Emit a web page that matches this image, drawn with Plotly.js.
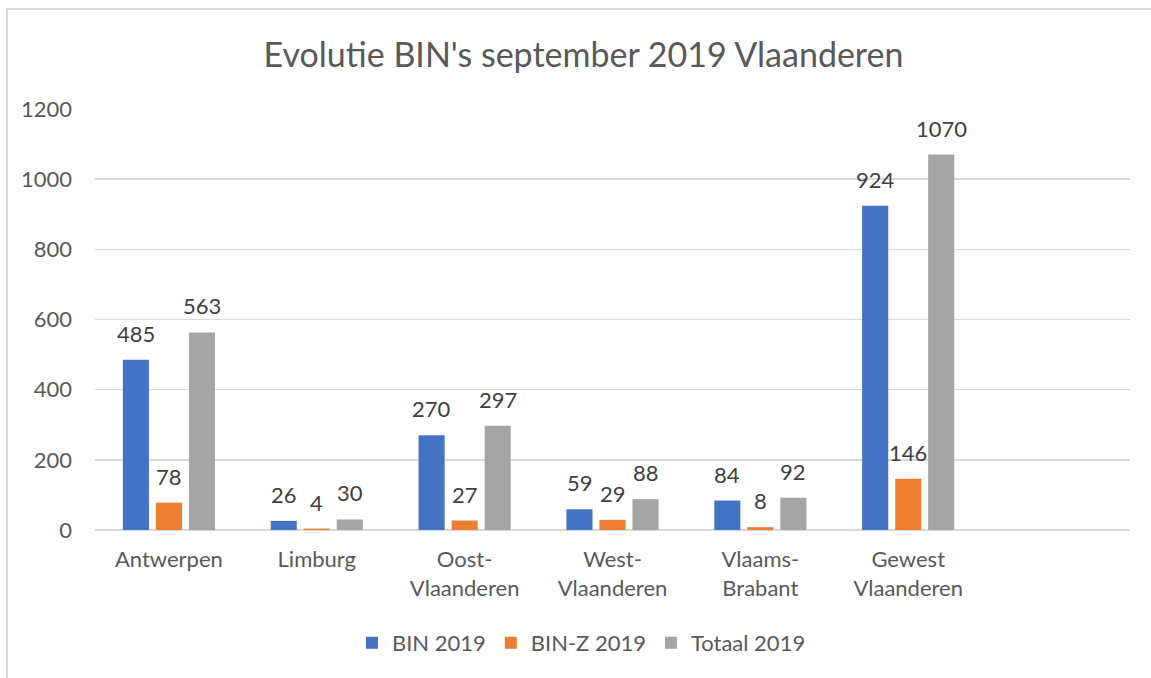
<!DOCTYPE html>
<html>
<head>
<meta charset="utf-8">
<script src="https://cdn.plot.ly/plotly-3.0.1.min.js"></script>
<style>
    body { margin: 0; background: #fff; }
    #chart { width: 1151px; height: 678px; }
    #frame {
        position: absolute; left: 6px; top: 8px; right: 0; bottom: 0;
        border-top: 2px solid #d9d9d9; border-left: 2px solid #d9d9d9;
        pointer-events: none;
    }
</style>
</head>
<body>
<div id="chart"></div>
<div id="frame"></div>
<script>
// data
var regions = ['Antwerpen', 'Limburg', 'Oost-<br>Vlaanderen', 'West-<br>Vlaanderen',
               'Vlaams-<br>Brabant', 'Gewest<br>Vlaanderen'];
var bin2019 = [485, 26, 270, 59, 84, 924];
var binZ2019 = [78, 4, 27, 29, 8, 146];
var totaal2019 = [563, 30, 297, 88, 92, 1070];

var seriesNames = ['BIN 2019', 'BIN-Z 2019', 'Totaal 2019'];
var seriesColors = ['#4472C4', '#ED7D31', '#A5A5A5'];
var seriesValues = [bin2019, binZ2019, totaal2019];

var fontFamily = 'Lato, "Open Sans", sans-serif';

var data = seriesValues.map(function(vals, i) {
    return {
        type: 'bar',
        name: seriesNames[i],
        x: regions,
        y: vals,
        marker: { color: seriesColors[i] },
        hoverinfo: 'x+y'
    };
});

// value labels above the bars (Excel puts them a bit higher than plotly's outside text)
var annotations = [];
seriesValues.forEach(function(vals, i) {
    vals.forEach(function(v, j) {
        annotations.push({
            x: regions[j],
            y: v,
            xref: 'x',
            yref: 'y',
            text: String(v),
            showarrow: false,
            xanchor: 'center',
            yanchor: 'bottom',
            xshift: (i - 1) * 33,
            yshift: 11,
            font: { family: fontFamily, size: 22, color: '#404040' }
        });
    });
});

var layout = {
    width: 1151,
    height: 678,
    margin: { l: 95, r: 21, t: 109, b: 148 },
    paper_bgcolor: '#fff',
    plot_bgcolor: '#fff',
    font: { family: fontFamily, size: 22, color: '#595959' },
    title: {
        text: "Evolutie BIN's september 2019 Vlaanderen",
        font: { family: fontFamily, size: 34, color: '#595959' },
        x: 0.507,
        xanchor: 'center',
        y: 0.918,
        yanchor: 'middle',
        yref: 'container'
    },
    barmode: 'group',
    bargap: 0.33,
    bargroupgap: 0.21,
    xaxis: {
        type: 'category',
        range: [-0.5, 6.5],
        showgrid: false,
        showline: false,
        zeroline: false,
        ticks: '',
        ticklabelstandoff: 14,
        tickfont: { family: fontFamily, size: 22, color: '#595959' }
    },
    yaxis: {
        range: [0, 1200],
        dtick: 200,
        showgrid: true,
        gridcolor: '#d9d9d9',
        gridwidth: 1.5,
        zeroline: true,
        zerolinecolor: '#d9d9d9',
        zerolinewidth: 2,
        showline: false,
        ticks: '',
        ticklabelstandoff: 22,
        tickfont: { family: fontFamily, size: 22, color: '#595959' }
    },
    showlegend: true,
    legend: {
        orientation: 'h',
        x: 0.47,
        xanchor: 'center',
        y: -0.268,
        yanchor: 'middle',
        font: { family: fontFamily, size: 22, color: '#595959' },
        itemwidth: 30
    },
    annotations: annotations
};

Plotly.newPlot('chart', data, layout, { displayModeBar: false, staticPlot: true });
</script>
</body>
</html>
